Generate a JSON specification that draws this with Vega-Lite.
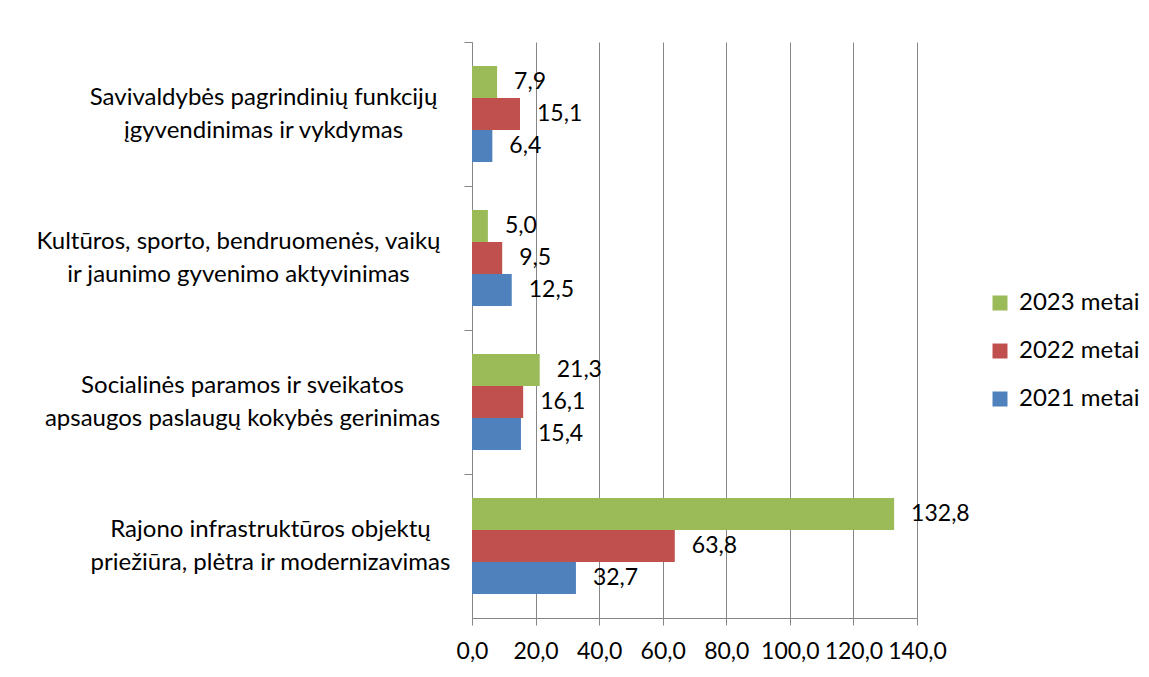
{
  "$schema": "https://vega.github.io/schema/vega-lite/v6.json",
  "autosize": {"type": "none"},
  "padding": {"left": 472, "top": 42, "right": 232, "bottom": 59},
  "width": 445,
  "height": 576,
  "background": "white",
  "config": {
    "locale": {"number": {"decimal": ",", "thousands": " ", "grouping": [3], "currency": ["", " €"]}},
    "view": {"stroke": null},
    "font": "Lato",
    "text": {"font": "Lato"}
  },
  "data": {
    "values": [
      {"category": "Savivaldybės  pagrindinių funkcijų\nįgyvendinimas ir vykdymas", "series": "2023 metai", "value": 7.9},
      {"category": "Savivaldybės  pagrindinių funkcijų\nįgyvendinimas ir vykdymas", "series": "2022 metai", "value": 15.1},
      {"category": "Savivaldybės  pagrindinių funkcijų\nįgyvendinimas ir vykdymas", "series": "2021 metai", "value": 6.4},
      {"category": "Kultūros, sporto, bendruomenės, vaikų\nir jaunimo gyvenimo aktyvinimas", "series": "2023 metai", "value": 5.0},
      {"category": "Kultūros, sporto, bendruomenės, vaikų\nir jaunimo gyvenimo aktyvinimas", "series": "2022 metai", "value": 9.5},
      {"category": "Kultūros, sporto, bendruomenės, vaikų\nir jaunimo gyvenimo aktyvinimas", "series": "2021 metai", "value": 12.5},
      {"category": "Socialinės paramos ir sveikatos\napsaugos paslaugų kokybės gerinimas", "series": "2023 metai", "value": 21.3},
      {"category": "Socialinės paramos ir sveikatos\napsaugos paslaugų kokybės gerinimas", "series": "2022 metai", "value": 16.1},
      {"category": "Socialinės paramos ir sveikatos\napsaugos paslaugų kokybės gerinimas", "series": "2021 metai", "value": 15.4},
      {"category": "Rajono infrastruktūros objektų\npriežiūra, plėtra ir modernizavimas", "series": "2023 metai", "value": 132.8},
      {"category": "Rajono infrastruktūros objektų\npriežiūra, plėtra ir modernizavimas", "series": "2022 metai", "value": 63.8},
      {"category": "Rajono infrastruktūros objektų\npriežiūra, plėtra ir modernizavimas", "series": "2021 metai", "value": 32.7}
    ]
  },
  "encoding": {
    "y": {
      "field": "category",
      "type": "nominal",
      "sort": null,
      "title": null,
      "scale": {"paddingInner": 0, "paddingOuter": 0},
      "axis": {
        "bandPosition": 0,
        "labelExpr": "split(datum.label, '\\n')",
        "labelFont": "Lato",
        "labelFontSize": 24,
        "labelColor": "#000000",
        "labelLineHeight": 33,
        "labelAlign": "center",
        "labelBaseline": "middle",
        "labelLimit": 0,
        "labelOffset": -16,
        "labelPadding": {
          "condition": [
            {"test": "indexof(datum.value, 'Savivaldyb') === 0", "value": 201},
            {"test": "indexof(datum.value, 'Kult') === 0", "value": 226},
            {"test": "indexof(datum.value, 'Social') === 0", "value": 222}
          ],
          "value": 194
        },
        "tickSize": 8,
        "tickColor": "#868686",
        "domainColor": "#868686",
        "grid": false
      }
    }
  },
  "layer": [
    {
      "mark": {"type": "bar"},
      "encoding": {
        "x": {
          "field": "value",
          "type": "quantitative",
          "title": null,
          "scale": {"domain": [0, 140], "nice": false},
          "axis": {
            "values": [0, 20, 40, 60, 80, 100, 120, 140],
            "format": ".1f",
            "labelFont": "Lato",
            "labelFontSize": 23,
            "labelColor": "#000000",
            "labelPadding": 15,
            "labelFlush": false,
            "tickSize": 7,
            "tickColor": "#868686",
            "domainColor": "#868686",
            "grid": true,
            "gridColor": "#868686",
            "gridOpacity": 1
          }
        },
        "yOffset": {
          "field": "series",
          "type": "nominal",
          "sort": ["2023 metai", "2022 metai", "2021 metai"],
          "scale": {"paddingInner": 0, "paddingOuter": 0.75}
        },
        "color": {
          "field": "series",
          "type": "nominal",
          "title": null,
          "scale": {
            "domain": ["2023 metai", "2022 metai", "2021 metai"],
            "range": ["#9BBB59", "#C0504D", "#4F81BD"]
          },
          "legend": {
            "orient": "none",
            "legendX": 516,
            "legendY": 249,
            "symbolType": "square",
            "symbolSize": 225,
            "symbolStrokeWidth": 0,
            "labelFont": "Lato",
            "labelFontSize": 24,
            "labelColor": "#000000",
            "labelOffset": 7,
            "rowPadding": 24,
            "labelLimit": 0
          }
        }
      }
    },
    {
      "mark": {"type": "text", "align": "left", "baseline": "middle", "dx": 17, "font": "Lato", "fontSize": 23, "color": "#000000"},
      "encoding": {
        "x": {"field": "value", "type": "quantitative"},
        "yOffset": {
          "field": "series",
          "type": "nominal",
          "sort": ["2023 metai", "2022 metai", "2021 metai"],
          "scale": {"paddingInner": 0, "paddingOuter": 0.75}
        },
        "text": {"field": "value", "type": "quantitative", "format": ".1f"}
      }
    }
  ]
}
